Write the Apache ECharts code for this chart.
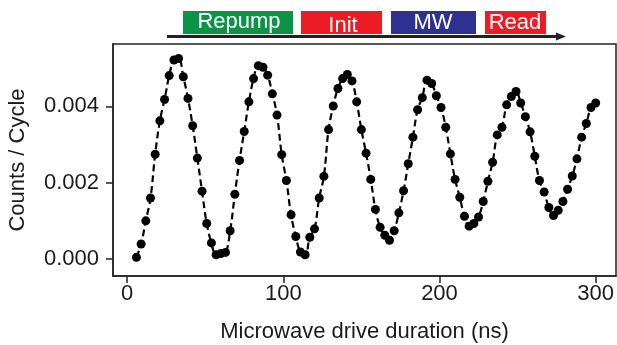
<!DOCTYPE html>
<html>
<head>
<meta charset="utf-8">
<script src="https://cdn.jsdelivr.net/npm/echarts@6/dist/echarts.min.js"></script>
<style>
  html, body { margin: 0; padding: 0; background: #fff; }
  #chart { width: 617px; height: 345px; }
</style>
</head>
<body>
<div id="chart"></div>
<script>
// microwave drive duration (ns)
var durations = [6, 9, 12, 15, 18, 21, 24, 27, 30, 33, 36, 39, 42, 45, 48, 51, 54, 57, 60,
    63, 66, 69, 72, 75, 78, 81, 84, 87, 90, 93, 96, 99, 102, 105, 108, 111, 114, 117, 120,
    123, 126, 129, 132, 135, 138, 141, 144, 147, 150, 153, 156, 159, 162, 165, 168, 171, 174, 177, 180,
    183, 186, 189, 192, 195, 198, 201, 204, 207, 210, 213, 216, 219, 222, 225, 228, 231, 234, 237, 240,
    243, 246, 249, 252, 255, 258, 261, 264, 267, 270, 273, 276, 279, 282, 285, 288, 291, 294, 297, 300];
// counts per cycle
var counts = [0.00003, 0.00038, 0.00099, 0.00159, 0.00274, 0.00362, 0.00418, 0.00481, 0.00522, 0.00526,
    0.00478, 0.00421, 0.00349, 0.00264, 0.00177, 0.00092, 0.00041, 0.00010, 0.00013,
    0.00016, 0.00073, 0.00169, 0.00258, 0.00334, 0.00412, 0.00473, 0.00507, 0.00503, 0.00482,
    0.00433, 0.00377, 0.00273, 0.00205, 0.00115, 0.00058, 0.00017, 0.00010, 0.00056, 0.00078,
    0.00159, 0.00216, 0.00339, 0.00401, 0.00447, 0.00473, 0.00484, 0.00467, 0.00412, 0.00339,
    0.00277, 0.00208, 0.00129, 0.00082, 0.00061, 0.00048, 0.00073, 0.00120, 0.00178, 0.00249,
    0.00319, 0.00391, 0.00423, 0.00469, 0.00460, 0.00428, 0.00397, 0.00345, 0.00275, 0.00208,
    0.00161, 0.00111, 0.00085, 0.00092, 0.00109, 0.00150, 0.00203, 0.00253, 0.00325, 0.00345,
    0.00404, 0.00426, 0.00439, 0.00409, 0.00373, 0.00333, 0.00269, 0.00205, 0.00175, 0.00134,
    0.00113, 0.00127, 0.00150, 0.00182, 0.00217, 0.00262, 0.00319, 0.00355, 0.00397, 0.00409];
var xTicks = [0, 100, 200, 300];
var yTicks = [0, 0.002, 0.004];
var steps = ['Repump', 'Init', 'MW', 'Read'];

var font = '"Liberation Sans", Arial, sans-serif';
var pts = durations.map(function (d, i) { return [d, counts[i]]; });

var chart = echarts.init(document.getElementById('chart'));
var option = {
    backgroundColor: '#fff',
    animation: false,
    grid: {
        left: 113, right: 1, top: 44, bottom: 69,
        outerBoundsMode: 'none',
        show: true, borderColor: '#222', borderWidth: 1.5
    },
    xAxis: {
        type: 'value',
        min: -9, max: 313,
        name: 'Microwave drive duration (ns)',
        nameLocation: 'middle',
        nameGap: 45,
        nameTextStyle: { fontFamily: font, fontSize: 22, color: '#1a1a1a' },
        splitLine: { show: false },
        axisLine: { onZero: false, lineStyle: { color: '#222', width: 1.5 } },
        axisTick: { length: 7, customValues: xTicks, lineStyle: { color: '#222', width: 1.5 } },
        axisLabel: { customValues: xTicks, margin: 7, fontFamily: font, fontSize: 22, color: '#1a1a1a' }
    },
    yAxis: {
        type: 'value',
        min: -0.00046, max: 0.00564,
        name: 'Counts / Cycle',
        nameLocation: 'middle',
        nameGap: 84,
        nameTextStyle: { fontFamily: font, fontSize: 22, color: '#1a1a1a' },
        splitLine: { show: false },
        axisLine: { show: true, onZero: false, lineStyle: { color: '#222', width: 1.5 } },
        axisTick: { show: true, length: 7, customValues: yTicks, lineStyle: { color: '#222', width: 1.5 } },
        axisLabel: {
            customValues: yTicks, margin: 14, fontFamily: font, fontSize: 22, color: '#1a1a1a',
            formatter: function (v) { return v.toFixed(3); }
        }
    },
    series: [
        {
            name: 'fit',
            type: 'line',
            data: pts,
            smooth: 0.4,
            showSymbol: false,
            lineStyle: { color: '#000', width: 2.2, type: [7, 4] },
            z: 3
        },
        {
            name: 'data',
            type: 'scatter',
            data: pts,
            symbol: 'circle',
            symbolSize: 9,
            itemStyle: { color: '#000', opacity: 1 },
            z: 2
        }
    ],
    graphic: [
        // pulse sequence
        { type: 'line', shape: { x1: 167, y1: 36.5, x2: 558, y2: 36.5 }, style: { stroke: '#222', lineWidth: 3 } },
        { type: 'polygon', shape: { points: [[556, 32.5], [566, 36.5], [556, 40.5]] }, style: { fill: '#222' } },
        { type: 'rect', shape: { x: 183, y: 11, width: 110, height: 23 }, style: { fill: '#0b9446' } },
        { type: 'rect', shape: { x: 301, y: 11, width: 81, height: 23 }, style: { fill: '#ed1c24' } },
        { type: 'rect', shape: { x: 391, y: 11, width: 85, height: 23 }, style: { fill: '#2e3192' } },
        { type: 'rect', shape: { x: 485, y: 11, width: 61, height: 23 }, style: { fill: '#ed1c24' } },
        { type: 'text', x: 239, y: 22, style: { text: steps[0], fill: '#fff', font: '22px ' + font, align: 'center', verticalAlign: 'middle' } },
        { type: 'text', x: 343, y: 26, style: { text: steps[1], fill: '#fff', font: '22px ' + font, align: 'center', verticalAlign: 'middle' } },
        { type: 'text', x: 433, y: 22.5, style: { text: steps[2], fill: '#fff', font: '22px ' + font, align: 'center', verticalAlign: 'middle' } },
        { type: 'text', x: 515, y: 22.5, style: { text: steps[3], fill: '#fff', font: '22px ' + font, align: 'center', verticalAlign: 'middle' } }
    ]
};
chart.setOption(option);
</script>
</body>
</html>
